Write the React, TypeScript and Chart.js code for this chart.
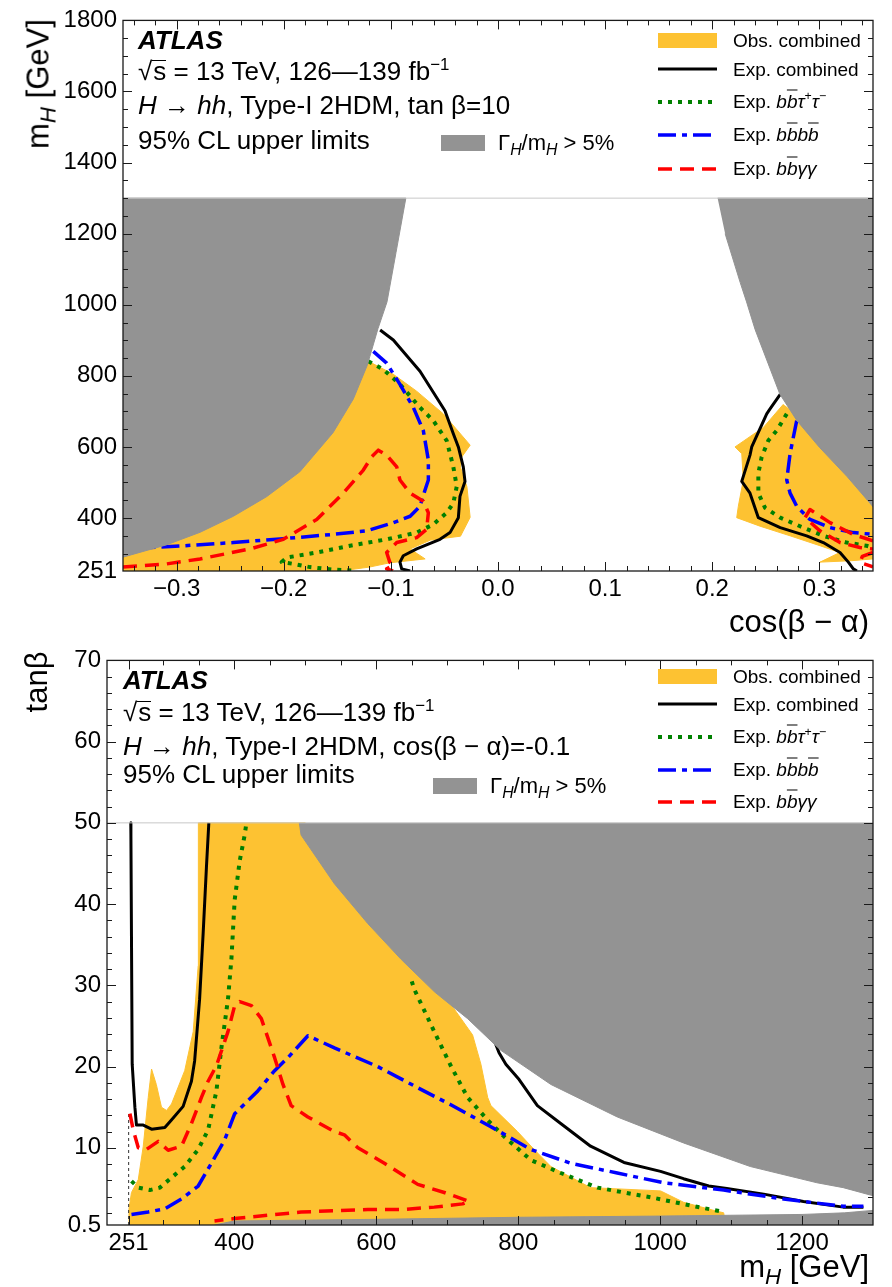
import React, { useEffect, useRef } from 'react';
import { Chart, registerables } from 'chart.js';

Chart.register(...registerables);

const FONT = "'Liberation Sans', Arial, Helvetica, sans-serif";
const YELLOW = '#FDC232';
const GRAY = '#939393';
const BLACK = '#000000';
const GREEN = '#008000';
const BLUE = '#0000FF';
const RED = '#FF0000';

// ================= TOP PANEL (tan beta = 10) =================
const topXTicks = [-0.3, -0.2, -0.1, 0.0, 0.1, 0.2, 0.3];
const topXMinor = [-0.34, -0.32, -0.28, -0.26, -0.24, -0.22, -0.18, -0.16, -0.14, -0.12, -0.08, -0.06, -0.04, -0.02,
  0.02, 0.04, 0.06, 0.08, 0.12, 0.14, 0.16, 0.18, 0.22, 0.24, 0.26, 0.28, 0.32, 0.34];
const topYTicks = [251, 400, 600, 800, 1000, 1200, 1400, 1600, 1800];
const topYMajor = [400, 600, 800, 1000, 1200, 1400, 1600, 1800];
const topYMinor = [300, 350, 450, 500, 550, 650, 700, 750, 850, 900, 950, 1050, 1100, 1150, 1250, 1300, 1350,
  1450, 1500, 1550, 1650, 1700, 1750];

// Observed excluded region (yellow)
const topObsLeft = [[-0.35, 251], [-0.35, 330], [-0.25, 560], [-0.17, 760], [-0.125, 850], [-0.121, 841], [-0.098, 805],
  [-0.076, 757], [-0.051, 693], [-0.026, 605], [-0.034, 571], [-0.035, 543], [-0.029, 488], [-0.026, 402],
  [-0.035, 349], [-0.063, 338], [-0.082, 313], [-0.068, 285], [-0.101, 274], [-0.12, 262], [-0.14, 254], [-0.16, 251]];
const topObsRight = [[0.2663, 720], [0.2477, 655], [0.2212, 600], [0.2275, 581], [0.229, 507], [0.2243, 433],
  [0.2228, 401], [0.2446, 377], [0.2726, 350], [0.3006, 322], [0.319, 303], [0.3006, 276], [0.33, 280], [0.35, 285],
  [0.35, 440], [0.33, 520], [0.30, 620], [0.28, 690]];
// Width region Gamma_H/m_H > 5% (gray)
const topWidthLeft = [[-0.35, 1300], [-0.086, 1300], [-0.0952, 1147], [-0.1036, 1008], [-0.112, 933], [-0.122, 830],
  [-0.135, 735], [-0.154, 640], [-0.185, 530], [-0.216, 460], [-0.247, 405], [-0.278, 360], [-0.309, 325], [-0.35, 290]];
const topWidthRight = [[0.205, 1300], [0.35, 1300], [0.35, 432], [0.326, 516], [0.300, 599], [0.279, 674],
  [0.263, 749], [0.24, 930], [0.232, 1008], [0.226, 1063], [0.212, 1200]];
// Expected combined
const topExpCombL = [[-0.110, 929], [-0.0977, 901], [-0.0728, 813], [-0.0495, 702], [-0.0417, 637], [-0.037, 600],
  [-0.0324, 544], [-0.0308, 503], [-0.0355, 461], [-0.037, 401], [-0.0448, 359], [-0.0541, 340], [-0.0759, 313],
  [-0.0884, 294], [-0.0915, 276], [-0.0899, 257], [-0.082, 251]];
const topExpCombR = [[0.2634, 748], [0.2539, 707], [0.2508, 693], [0.2368, 600], [0.2352, 577], [0.2275, 503],
  [0.2352, 470], [0.243, 401], [0.2634, 373], [0.2881, 350], [0.3036, 331], [0.3192, 303], [0.327, 276],
  [0.3316, 257], [0.335, 251]];
// Expected bbtautau
const topTauL = [[-0.121, 841], [-0.107, 818], [-0.0915, 776], [-0.0728, 711], [-0.0604, 674], [-0.0479, 618],
  [-0.0417, 544], [-0.0385, 489], [-0.0417, 442], [-0.0479, 415], [-0.0604, 382], [-0.0759, 359], [-0.1039, 340],
  [-0.1381, 322], [-0.1692, 303], [-0.197, 289], [-0.2019, 276], [-0.191, 271], [-0.1755, 262], [-0.154, 255],
  [-0.132, 252]];
const topTauR = [[0.2695, 693], [0.2601, 646], [0.2523, 618], [0.2461, 572], [0.243, 526], [0.243, 470],
  [0.2492, 429], [0.2634, 401], [0.2819, 377], [0.3036, 350], [0.3254, 331], [0.344, 322], [0.35, 317]];
// Expected bbbb
const topBbbbL = [[-0.1164, 869], [-0.1039, 836], [-0.0915, 776], [-0.079, 711], [-0.0697, 646], [-0.065, 563],
  [-0.065, 507], [-0.0681, 479], [-0.0728, 433], [-0.082, 405], [-0.0977, 387], [-0.1225, 364], [-0.1537, 354],
  [-0.2004, 342], [-0.247, 331], [-0.2937, 322], [-0.35, 313]];
const topBbbbR = [[0.2788, 674], [0.2757, 628], [0.2726, 581], [0.2695, 507], [0.2726, 470], [0.2788, 433],
  [0.2912, 396], [0.3099, 373], [0.3316, 359], [0.35, 354]];
// Expected bbyy
const topYyL = [[-0.35, 262], [-0.3092, 271], [-0.2781, 285], [-0.2315, 313], [-0.2004, 340], [-0.1692, 396],
  [-0.1444, 470], [-0.1257, 535], [-0.1179, 572], [-0.1117, 591], [-0.1039, 577], [-0.0945, 544], [-0.0915, 507],
  [-0.082, 470], [-0.0697, 447], [-0.065, 415], [-0.0666, 368], [-0.0759, 345], [-0.0945, 331], [-0.1039, 303],
  [-0.101, 276], [-0.0977, 267], [-0.1039, 257], [-0.098, 251]];
const topYyR = [[0.35, 336], [0.3316, 354], [0.3099, 387], [0.2912, 424], [0.2866, 401], [0.3005, 364],
  [0.3192, 331], [0.3378, 317], [0.35, 313]];
const topYyR2 = [[0.35, 303], [0.34, 292], [0.338, 275], [0.35, 263]];
const topFrameLine = [[-0.35, 1300], [0.35, 1300]];

// ================= BOTTOM PANEL (cos(beta-alpha) = -0.1) =================
const botXTicks = [251, 400, 600, 800, 1000, 1200];
const botXMinor = [300, 350, 450, 500, 550, 650, 700, 750, 850, 900, 950, 1050, 1100, 1150, 1250];
const botYTicks = [0.5, 10, 20, 30, 40, 50, 60, 70];
const botYMajor = [10, 20, 30, 40, 50, 60, 70];
const botYMinor = [2, 4, 6, 8, 12, 14, 16, 18, 22, 24, 26, 28, 32, 34, 36, 38, 42, 44, 46, 48, 52, 54, 56, 58,
  62, 64, 66, 68];

const botObs = [[251, 0.5], [251.5, 2.5], [255, 4.5], [264.6, 6.1], [271.6, 10.2], [278.6, 16.2], [283.3, 19.7],
  [290, 17.8], [297.3, 15.0], [304.4, 14.6], [311.4, 15.4], [330, 19.5], [342, 24.3], [349, 32.4], [349.5, 48.5],
  [349, 50], [500, 50], [650, 33.5], [700, 28.3], [735.7, 23.9], [747.4, 20.3], [757, 16.2], [761.5, 15.2],
  [799, 12.0], [822.4, 9.8], [846, 7.7], [902, 5.1], [1000.6, 4.7], [1033, 3.3], [1080, 2.2], [1089.6, 2.0],
  [1092, 0.5]];
const botWidthUpper = [[491.5, 50], [494, 48.5], [541, 42.5], [588, 37.6], [635, 33.2], [682, 29.2], [728.7, 25.9],
  [775.5, 22.0], [846, 17.8], [939.6, 13.8], [1033, 10.6], [1127, 7.7], [1221, 5.7], [1258, 5.1], [1300, 4.1],
  [1300, 50]];
const botWidthLower = [[372, 0.5], [400, 1.0], [600, 1.2], [800, 1.45], [1000, 1.6], [1200, 1.8], [1260, 2.0],
  [1300, 2.3], [1300, 0.5]];
const botExpCombL = [[254, 50], [254.2, 48.5], [256, 20.3], [259.8, 15.0], [262, 12.8], [271.6, 12.8], [283.3, 12.3],
  [302, 12.5], [311, 13.4], [327.8, 15.1], [339.5, 18.2], [344, 20.7], [351, 28.3], [356, 36.4], [360.6, 44.5],
  [364, 50]];
const botExpCombR = [[765, 23.5], [773, 21.7], [782.6, 20.3], [801.3, 18.4], [827, 15.2], [859.9, 13.0], [902, 10.2],
  [949, 8.2], [1000.6, 7.1], [1033, 6.2], [1068.5, 5.3], [1094, 5.0], [1146, 4.3], [1202, 3.4], [1258, 2.7],
  [1286.5, 2.7]];
const botTauL = [[255, 5.9], [264.6, 5.1], [281, 4.8], [295, 5.1], [311, 6.3], [330, 7.7], [349, 9.8], [363, 12.2],
  [374.7, 17.0], [381.7, 22.3], [391, 28.3], [395.8, 33.2], [400.4, 40.5], [407.5, 45.3], [414.5, 48.5], [417, 50]];
const botTauR = [[650, 30.5], [653.6, 29.5], [681.7, 24.3], [705, 20.1], [728.7, 16.2], [757, 13.4], [780, 11.4],
  [817.7, 8.5], [860, 6.9], [911.5, 5.1], [987.5, 3.9], [1043, 2.9], [1090, 2.1]];
const botBbbb = [[255, 1.8], [278.6, 2.1], [302, 2.5], [325.5, 3.7], [349, 5.3], [367.7, 8.1], [386.4, 11.0],
  [400.5, 14.2], [414.5, 15.4], [433, 17.0], [456.7, 19.5], [475.5, 21.1], [503.6, 23.8], [541, 22.3], [602, 20.0],
  [658.4, 17.4], [705, 15.3], [761.5, 12.6], [817.7, 9.8], [874, 8.1], [939.6, 6.9], [1005, 5.7], [1089.6, 4.8],
  [1174, 3.7], [1258, 2.8], [1286.5, 2.8]];
const botYy = [[252.8, 14.2], [257.5, 12.2], [264.6, 10.0], [276, 9.8], [292.7, 10.8], [306.7, 9.7], [325.5, 10.2],
  [339.5, 13.0], [353.6, 16.2], [363, 18.2], [374.7, 20.1], [391, 24.3], [400.4, 27.5], [407.5, 28.0], [424, 27.5],
  [438, 25.9], [456.7, 21.1], [468.5, 17.8], [480, 15.2], [503.6, 13.8], [541, 12.0], [555, 11.6], [574, 10.0],
  [611.4, 8.1], [658.4, 5.5], [695.8, 4.5], [731, 3.4], [721.6, 3.1], [681.7, 2.7], [634.9, 2.4], [588, 2.4],
  [494, 2.1], [447.4, 1.7], [400.4, 1.3], [372, 1.0]];
const botBoundary251 = [[251, 0.5], [251, 14.2]];
const botFrameLine = [[220.5, 50], [1300, 50]];

// ================= helpers =================
const pts = (arr: number[][]) => arr.map(([x, y]) => ({ x, y }));

const lineDs = (label: string, arr: number[][], color: string, width: number, dash: number[], order: number) => ({
  label, data: pts(arr), borderColor: color, backgroundColor: color, borderWidth: width, borderDash: dash,
  borderCapStyle: 'butt', borderJoinStyle: 'round', pointRadius: 0, pointHoverRadius: 0, fill: false,
  tension: 0, order,
});
const areaDs = (label: string, arr: number[][], color: string, order: number) => ({
  label, data: pts(arr), borderColor: color, backgroundColor: color, borderWidth: 1, pointRadius: 0,
  pointHoverRadius: 0, fill: 'shape', tension: 0, order,
});

const DASH_TAU = [4, 6];
const DASH_BBBB = [18, 6, 5, 6];
const DASH_YY = [14, 8];

const frameTicksPlugin = {
  id: 'frameTicks',
  afterDatasetsDraw(chart: any, _args: any, opts: any) {
    const { ctx, chartArea: a, scales } = chart;
    const x = scales.x;
    const y = scales.y;
    ctx.save();
    ctx.strokeStyle = '#1a1a1a';
    ctx.lineWidth = 1;
    const drawX = (vals: number[], len: number) => {
      for (const v of vals) {
        const px = Math.round(x.getPixelForValue(v)) + 0.5;
        ctx.beginPath();
        ctx.moveTo(px, a.bottom); ctx.lineTo(px, a.bottom - len);
        ctx.moveTo(px, a.top); ctx.lineTo(px, a.top + len);
        ctx.stroke();
      }
    };
    const drawY = (vals: number[], len: number) => {
      for (const v of vals) {
        const py = Math.round(y.getPixelForValue(v)) + 0.5;
        ctx.beginPath();
        ctx.moveTo(a.left, py); ctx.lineTo(a.left + len, py);
        ctx.moveTo(a.right, py); ctx.lineTo(a.right - len, py);
        ctx.stroke();
      }
    };
    drawX(opts.xMajor, 9);
    drawX(opts.xMinor, 5);
    drawY(opts.yMajor, 9);
    drawY(opts.yMinor, 5);
    ctx.lineWidth = 1.3;
    ctx.strokeRect(a.left, a.top, a.right - a.left, a.bottom - a.top);
    ctx.restore();
  },
};

const fmtTopX = (v: number) => {
  const r = Math.round(v * 10) / 10;
  if (r === 0) return '0.0';
  return (r < 0 ? '\u2212' : '') + Math.abs(r).toFixed(1);
};

function buildConfig(p: any) {
  return {
    type: 'line',
    data: { datasets: p.datasets },
    options: {
      responsive: false,
      maintainAspectRatio: false,
      animation: false,
      devicePixelRatio: 1,
      events: [],
      layout: { padding: p.padding },
      plugins: {
        legend: { display: false },
        tooltip: { enabled: false },
        frameTicks: p.ticks,
      },
      scales: {
        x: {
          type: 'linear', min: p.xMin, max: p.xMax,
          grid: { display: false, drawTicks: false },
          border: { display: false },
          ticks: {
            autoSkip: false, maxRotation: 0, padding: 4, color: '#000',
            font: { family: FONT, size: 24 },
            callback: p.xFmt,
          },
          afterBuildTicks: (s: any) => { s.ticks = p.xTicks.map((v: number) => ({ value: v })); },
          afterFit: (s: any) => { s.height = p.xHeight; },
        },
        y: {
          type: 'linear', min: p.yMin, max: p.yMax,
          grid: { display: false, drawTicks: false },
          border: { display: false },
          ticks: {
            autoSkip: false, padding: 6, color: '#000',
            font: { family: FONT, size: 24 },
            callback: (v: number) => String(v),
          },
          afterBuildTicks: (s: any) => { s.ticks = p.yTicks.map((v: number) => ({ value: v })); },
          afterFit: (s: any) => { s.width = p.yWidth; },
        },
      },
    },
    plugins: [frameTicksPlugin],
  };
}

const topDatasets = [
  areaDs('Γ/m > 5% (left)', topWidthLeft, GRAY, 1),
  areaDs('Γ/m > 5% (right)', topWidthRight, GRAY, 1),
  lineDs('Legend frame', topFrameLine, '#c8c8c8', 1, [], 0),
  lineDs('Exp. bbγγ L', topYyL, RED, 3.5, DASH_YY, 2),
  lineDs('Exp. bbγγ R', topYyR, RED, 3.5, DASH_YY, 2),
  lineDs('Exp. bbγγ R2', topYyR2, RED, 3.5, DASH_YY, 2),
  lineDs('Exp. bbbb L', topBbbbL, BLUE, 3.5, DASH_BBBB, 3),
  lineDs('Exp. bbbb R', topBbbbR, BLUE, 3.5, DASH_BBBB, 3),
  lineDs('Exp. bbττ L', topTauL, GREEN, 4, DASH_TAU, 4),
  lineDs('Exp. bbττ R', topTauR, GREEN, 4, DASH_TAU, 4),
  lineDs('Exp. combined L', topExpCombL, BLACK, 3, [], 5),
  lineDs('Exp. combined R', topExpCombR, BLACK, 3, [], 5),
  areaDs('Obs. combined L', topObsLeft, YELLOW, 10),
  areaDs('Obs. combined R', topObsRight, YELLOW, 10),
];

const botDatasets = [
  areaDs('Γ/m > 5% upper', botWidthUpper, GRAY, 1),
  areaDs('Γ/m > 5% lower', botWidthLower, GRAY, 1),
  lineDs('Legend frame', botFrameLine, '#c8c8c8', 1, [], 0),
  lineDs('Exp. bbγγ', botYy, RED, 3.5, DASH_YY, 2),
  lineDs('Exp. bbbb', botBbbb, BLUE, 3.5, DASH_BBBB, 3),
  lineDs('Exp. bbττ L', botTauL, GREEN, 4, DASH_TAU, 4),
  lineDs('Exp. bbττ R', botTauR, GREEN, 4, DASH_TAU, 4),
  lineDs('Exp. combined L', botExpCombL, BLACK, 3, [], 5),
  lineDs('Exp. combined R', botExpCombR, BLACK, 3, [], 5),
  lineDs('m_H = 251', botBoundary251, '#333', 1, [3, 3], 6),
  areaDs('Obs. combined', botObs, YELLOW, 10),
];

function ChartCanvas({ config, top, height }: { config: any; top: number; height: number }) {
  const ref = useRef<HTMLCanvasElement | null>(null);
  useEffect(() => {
    if (!ref.current) return;
    const chart = new Chart(ref.current, config);
    return () => chart.destroy();
  }, [config]);
  return (
    <canvas ref={ref} width={892} height={height}
      style={{ position: 'absolute', left: 0, top, width: 892, height }} />
  );
}

const supS: React.CSSProperties = { fontSize: '0.65em', position: 'relative', top: '-0.6em', verticalAlign: 'baseline' };
const subS: React.CSSProperties = { fontSize: '0.72em', position: 'relative', top: '0.3em', verticalAlign: 'baseline', fontStyle: 'italic' };
const ovS: React.CSSProperties = { textDecoration: 'overline', fontStyle: 'italic' };
const sqrtS: React.CSSProperties = { display: 'inline-block', borderTop: '1.6px solid #000', lineHeight: 0.78, paddingLeft: 1 };

function Txt({ x, y, size, children, style }: any) {
  return (
    <div style={{
      position: 'absolute', left: x, top: y, fontSize: size, lineHeight: 1, whiteSpace: 'nowrap',
      transform: 'translateY(-50%)', fontFamily: FONT, color: '#000', ...style,
    }}>{children}</div>
  );
}

function VTxt({ x, y, size, children }: any) {
  return (
    <div style={{
      position: 'absolute', left: x, top: y, fontSize: size, lineHeight: 1, whiteSpace: 'nowrap',
      transform: 'translate(-50%,-50%) rotate(-90deg)', fontFamily: FONT, color: '#000',
    }}>{children}</div>
  );
}

function LegLine({ x, y, color, width, dash }: any) {
  return (
    <svg style={{ position: 'absolute', left: x, top: y - 8 }} width={59} height={16}>
      <line x1={0} y1={8} x2={59} y2={8} stroke={color} strokeWidth={width}
        strokeDasharray={dash && dash.length ? dash.join(' ') : undefined} />
    </svg>
  );
}

function Box({ x, y, w, h, color }: any) {
  return <div style={{ position: 'absolute', left: x, top: y, width: w, height: h, background: color }} />;
}

function Legend({ rows, lx, tx }: { rows: number[]; lx: number; tx: number }) {
  const fs = 19;
  return (
    <>
      <Box x={lx} y={rows[0] - 7.5} w={59} h={15} color={YELLOW} />
      <Txt x={tx} y={rows[0]} size={fs}>Obs. combined</Txt>
      <LegLine x={lx} y={rows[1]} color={BLACK} width={3} dash={[]} />
      <Txt x={tx} y={rows[1]} size={fs}>Exp. combined</Txt>
      <LegLine x={lx} y={rows[2] + 1} color={GREEN} width={4} dash={DASH_TAU} />
      <Txt x={tx} y={rows[2]} size={fs}>Exp. <i>b</i><span style={ovS}>b</span><i>τ</i><span style={supS}>+</span><i>τ</i><span style={supS}>−</span></Txt>
      <LegLine x={lx} y={rows[3] + 1} color={BLUE} width={3.5} dash={DASH_BBBB} />
      <Txt x={tx} y={rows[3]} size={fs}>Exp. <i>b</i><span style={ovS}>b</span><i>b</i><span style={ovS}>b</span></Txt>
      <LegLine x={lx} y={rows[4] + 1} color={RED} width={3.5} dash={DASH_YY} />
      <Txt x={tx} y={rows[4]} size={fs}>Exp. <i>b</i><span style={ovS}>b</span><i>γγ</i></Txt>
    </>
  );
}

function WidthLegend({ x, y }: { x: number; y: number }) {
  return (
    <>
      <Box x={x} y={y - 8} w={44} h={16} color={GRAY} />
      <Txt x={x + 57} y={y} size={22}>Γ<span style={subS}>H</span>/m<span style={subS}>H</span> &gt; 5%</Txt>
    </>
  );
}

export default function App() {
  const topConfig = React.useMemo(() => buildConfig({
    datasets: topDatasets, xMin: -0.35, xMax: 0.35, yMin: 251, yMax: 1800,
    xTicks: topXTicks, yTicks: topYTicks, xFmt: fmtTopX,
    padding: { left: 0, right: 19, top: 15, bottom: 29 }, xHeight: 40, yWidth: 123,
    ticks: { xMajor: topXTicks, xMinor: topXMinor, yMajor: topYMajor, yMinor: topYMinor },
  }), []);
  const botConfig = React.useMemo(() => buildConfig({
    datasets: botDatasets, xMin: 220.5, xMax: 1300, yMin: 0.5, yMax: 70,
    xTicks: botXTicks, yTicks: botYTicks, xFmt: (v: number) => String(v),
    padding: { left: 0, right: 19, top: 13, bottom: 22 }, xHeight: 40, yWidth: 107,
    ticks: { xMajor: botXTicks, xMinor: botXMinor, yMajor: botYMajor, yMinor: botYMinor },
  }), []);

  return (
    <div style={{ position: 'absolute', left: 0, top: 0, width: 892, height: 1287, background: '#fff', overflow: 'hidden', fontFamily: FONT }}>
      <ChartCanvas config={topConfig} top={0} height={640} />
      <ChartCanvas config={botConfig} top={640} height={647} />

      {/* top panel texts */}
      <VTxt x={38} y={84} size={31}>m<span style={subS}>H</span> [GeV]</VTxt>
      <Txt x={869} y={621} size={31} style={{ transform: 'translate(-100%,-50%)' }}>cos(β − α)</Txt>
      <Txt x={138} y={39.5} size={26} style={{ fontWeight: 'bold', fontStyle: 'italic' }}>ATLAS</Txt>
      <Txt x={138} y={71} size={26}>√<span style={sqrtS}>s</span> = 13 TeV, 126—139 fb<span style={supS}>−1</span></Txt>
      <Txt x={138} y={105} size={26}><i>H</i> → <i>hh</i>, Type-I 2HDM, tan β=10</Txt>
      <Txt x={138} y={140} size={26}>95% CL upper limits</Txt>
      <WidthLegend x={441} y={143} />
      <Legend rows={[40, 68.5, 100.5, 134, 167.5]} lx={658} tx={733} />

      {/* bottom panel texts */}
      <VTxt x={36} y={682} size={31}>tanβ</VTxt>
      <Txt x={869} y={1266} size={31} style={{ transform: 'translate(-100%,-50%)' }}>m<span style={subS}>H</span> [GeV]</Txt>
      <Txt x={123} y={679.5} size={26} style={{ fontWeight: 'bold', fontStyle: 'italic' }}>ATLAS</Txt>
      <Txt x={123} y={712} size={26}>√<span style={sqrtS}>s</span> = 13 TeV, 126—139 fb<span style={supS}>−1</span></Txt>
      <Txt x={123} y={746} size={26}><i>H</i> → <i>hh</i>, Type-I 2HDM, cos(β − α)=-0.1</Txt>
      <Txt x={123} y={774} size={26}>95% CL upper limits</Txt>
      <WidthLegend x={433} y={786} />
      <Legend rows={[676, 704, 736, 769, 801]} lx={658} tx={733} />
    </div>
  );
}
